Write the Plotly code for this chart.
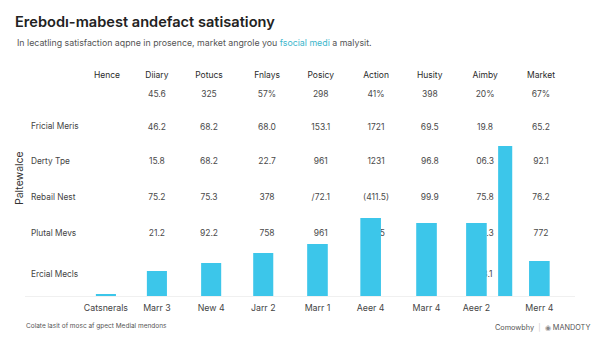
import plotly.graph_objects as go

# ---------------- data ----------------
title_text = "Erebodı-mabest andefact satisationy"
subtitle_a = "In lecatling satisfaction aqpne in prosence, market angrole you "
subtitle_b = "fsocial medi"
subtitle_c = " a malysit."
y_title = "Paltewalce"
footnote = "Colate lasit of mosc af gpect Medial mendons"
brand_a = "Comowbhy"
brand_b = "MANDOTY"

columns = ["Hence", "Diiary", "Potucs", "Fnlays", "Posicy", "Action", "Husity", "Aimby", "Market"]
col_pos = [0, 0.92, 1.88, 2.95, 3.94, 4.96, 5.95, 6.97, 8.0]

row_labels = ["", "Fricial Meris", "Derty Tpe", "Rebail Nest", "Plutal Mevs", "Ercial Mecls"]
row_pos = [0, 0.9, 1.85, 2.85, 3.85, 5.0]
header_pos = -0.53
label_col = -1.4

table_rows = [
    ["", "45.6", "325", "57%", "298", "41%", "398", "20%", "67%"],
    ["", "46.2", "68.2", "68.0", "153.1", "1721", "69.5", "19.8", "65.2"],
    ["", "15.8", "68.2", "22.7", "961", "1231", "96.8", "06.3", "92.1"],
    ["", "75.2", "75.3", "378", "/72.1", "(411.5)", "99.9", "75.8", "76.2"],
    ["", "21.2", "92.2", "758", "961", "88.5", "", "75.3", "772"],
    ["", "", "", "", "", "", "", "78.1", ""],
]

bar_labels = ["Catsnerals", "Marr 3", "New 4", "Jarr 2", "Marr 1", "Aeer 4", "Marr 4", "Aeer 2", "", "Merr 4"]
bar_pos = [-0.02, 0.92, 1.92, 2.88, 3.88, 4.86, 5.89, 6.81, 7.34, 7.97]
bar_values = [2, 25, 33, 43, 52, 78, 73, 73, 150, 35]
bar_widths = [0.37, 0.37, 0.37, 0.37, 0.38, 0.38, 0.38, 0.38, 0.26, 0.38]

BAR_COLOR = "#3cc6ea"
TEXT = "#3a3a3a"
FONT = "Inter, Roboto, Arial, sans-serif"

fig = go.Figure()

# table header
fig.add_trace(go.Scatter(
    x=col_pos, y=[header_pos] * len(columns), text=columns, mode="text",
    textposition="middle center", textfont=dict(size=8.5, color="#2a2a2a", family=FONT),
    hoverinfo="skip", showlegend=False, xaxis="x", yaxis="y"))

# table body
for r, vals in enumerate(table_rows):
    fig.add_trace(go.Scatter(
        x=col_pos, y=[row_pos[r]] * len(vals), text=vals, mode="text",
        textposition="middle center", textfont=dict(size=8.5, color="#4a4a4a", family=FONT),
        hoverinfo="skip", showlegend=False, xaxis="x", yaxis="y"))

# row labels
fig.add_trace(go.Scatter(
    x=[label_col] * len(row_labels), y=row_pos, text=row_labels, mode="text",
    textposition="middle right", textfont=dict(size=8.3, color="#444444", family=FONT),
    hoverinfo="skip", showlegend=False, xaxis="x", yaxis="y"))

# bars (overlay subplot, drawn above the table text)
fig.add_trace(go.Bar(
    x=bar_pos, y=bar_values, width=bar_widths, marker=dict(color=BAR_COLOR, line=dict(width=0)),
    hoverinfo="skip", showlegend=False, xaxis="x", yaxis="y2"))

tick_vals = [p for p, l in zip(bar_pos, bar_labels) if l]
tick_text = [l for l in bar_labels if l]

fig.update_layout(
    width=600, height=338,
    margin=dict(l=25, r=25, t=65, b=42),
    paper_bgcolor="white", plot_bgcolor="white",
    font=dict(family=FONT, color=TEXT),
    title=dict(text=title_text, x=15 / 600, xanchor="left", xref="container",
               y=1 - 22 / 338, yanchor="middle", yref="container",
               font=dict(size=14.6, color="#222222", family=FONT, weight=600)),
    xaxis=dict(range=[-1.5115, 8.627], tickvals=tick_vals, ticktext=tick_text,
               showgrid=False, zeroline=False, showline=True, linecolor="#f0f0f0",
               ticks="", ticklabelstandoff=3,
               tickfont=dict(size=8.8, color="#444444", family=FONT)),
    yaxis=dict(range=[5.583, -0.833], visible=False, showgrid=False, zeroline=False),
    yaxis2=dict(range=[0, 231], overlaying="y", visible=False, showgrid=False, zeroline=False),
    annotations=[
        dict(text=subtitle_a + "<span style='color:#3bb6cc'>" + subtitle_b + "</span>" + subtitle_c,
             xref="paper", yref="paper", x=-10 / 550, y=(296 - 43) / 231,
             xanchor="left", yanchor="middle", showarrow=False,
             font=dict(size=8.8, color="#555555", family=FONT)),
        dict(text=y_title, xref="paper", yref="paper", x=-6 / 550, y=(296 - 178) / 231,
             textangle=-90, xanchor="center", yanchor="middle", showarrow=False,
             font=dict(size=10.5, color="#333333", family=FONT)),
        dict(text=footnote, xref="paper", yref="paper", x=-1 / 550, y=(296 - 326) / 231,
             xanchor="left", yanchor="middle", showarrow=False,
             font=dict(size=6.5, color="#555555", family=FONT)),
        dict(text=brand_a + "  <span style='color:#cccccc'>|</span>  <span style='color:#888'>◉</span> " + brand_b,
             xref="paper", yref="paper", x=567 / 550, y=(296 - 327) / 231,
             xanchor="right", yanchor="middle", showarrow=False,
             font=dict(size=7.3, color="#555555", family=FONT)),
    ],
)

fig.write_html("out.html")
